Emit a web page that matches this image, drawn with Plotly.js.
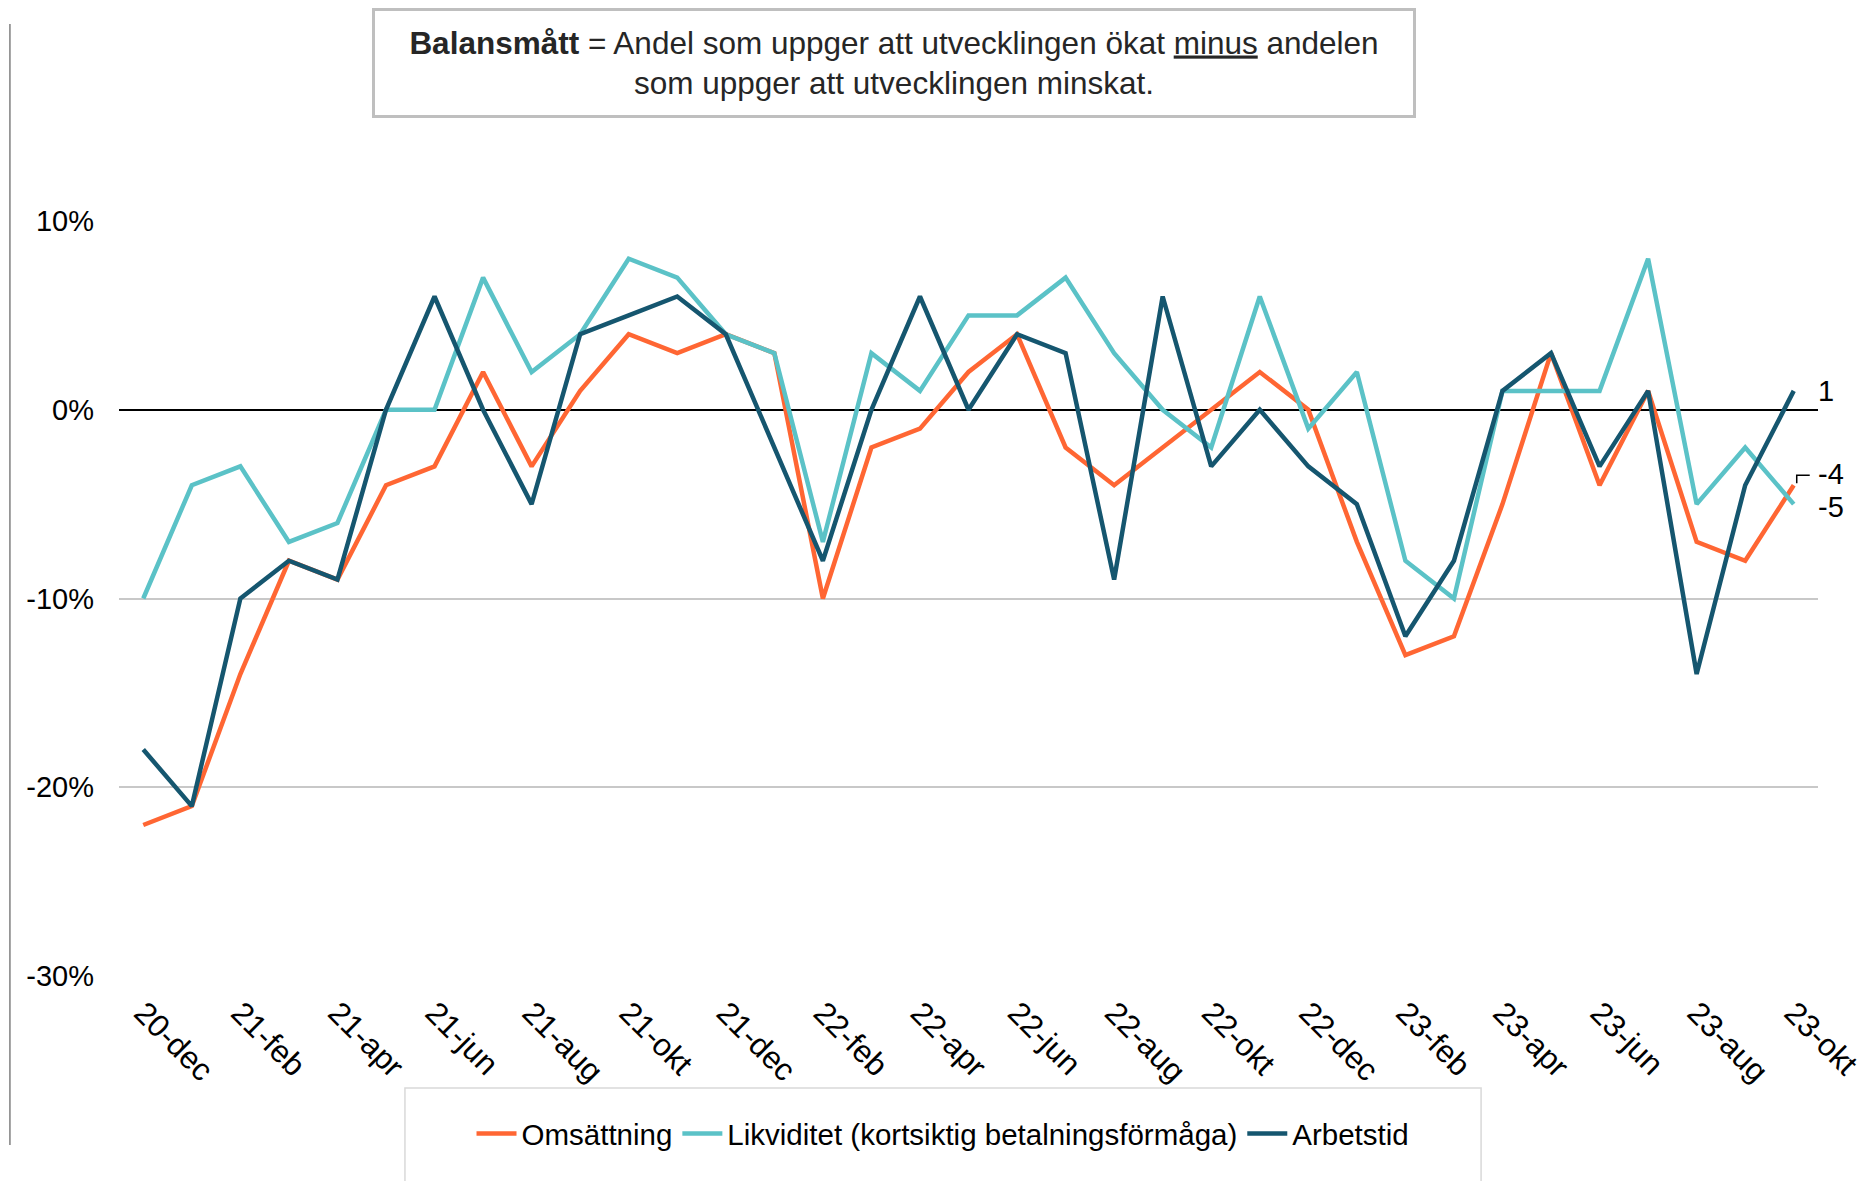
<!DOCTYPE html>
<html>
<head>
<meta charset="utf-8">
<script src="https://cdn.plot.ly/plotly-3.0.1.min.js"></script>
<style>
  html, body { margin: 0; padding: 0; background: #ffffff; }
  #chart { width: 1870px; height: 1181px; }
</style>
</head>
<body>
<div id="chart"></div>
<script>
// ---- Data (balance measures, percent) ----
var months = [
  "20-dec", "21-jan", "21-feb", "21-mar", "21-apr", "21-maj", "21-jun", "21-jul", "21-aug", "21-sep", "21-okt", "21-nov",
  "21-dec", "22-jan", "22-feb", "22-mar", "22-apr", "22-maj", "22-jun", "22-jul", "22-aug", "22-sep", "22-okt", "22-nov",
  "22-dec", "23-jan", "23-feb", "23-mar", "23-apr", "23-maj", "23-jun", "23-jul", "23-aug", "23-sep", "23-okt"
];
var tickLabels = [
  "20-dec", "21-feb", "21-apr", "21-jun", "21-aug", "21-okt", "21-dec", "22-feb", "22-apr",
  "22-jun", "22-aug", "22-okt", "22-dec", "23-feb", "23-apr", "23-jun", "23-aug", "23-okt"
];
var omsattning = [-22, -21, -14, -8, -9, -4, -3, 2, -3, 1, 4, 3, 4, 3, -10, -2, -1, 2, 4, -2, -4, -2, 0, 2, 0, -7, -13, -12, -5, 3, -4, 1, -7, -8, -4];
var likviditet = [-10, -4, -3, -7, -6, 0, 0, 7, 2, 4, 8, 7, 4, 3, -7, 3, 1, 5, 5, 7, 3, 0, -2, 6, -1, 2, -8, -10, 1, 1, 1, 8, -5, -2, -5];
var arbetstid  = [-18, -21, -10, -8, -9, 0, 6, 0, -5, 4, 5, 6, 4, -2, -8, 0, 6, 0, 4, 3, -9, 6, -3, 0, -3, -5, -12, -8, 1, 3, -3, 1, -14, -4, 1];
var seriesNames = ["Omsättning", "Likviditet (kortsiktig betalningsförmåga)", "Arbetstid"];
var yTicks = [-30, -20, -10, 0, 10];
var yTickLabels = ["-30%", "-20%", "-10%", "0%", "10%"];

// ---- Styles ----
var FONT = "Liberation Sans, Arial, Helvetica, sans-serif";
var colors = ["#FF6633", "#5BC2C7", "#15566F"];
var allSeries = [omsattning, likviditet, arbetstid];

var traces = allSeries.map(function (vals, i) {
  return {
    type: "scatter",
    mode: "lines",
    x: months,
    y: vals,
    name: seriesNames[i],
    line: { color: colors[i], width: 4.5 },
    hoverinfo: "x+y+name"
  };
});

var last = months.length - 1;
var endLabelShift = [11, -3, 0];   // vertical pixel nudges: -4, -5, 1
var annotations = allSeries.map(function (vals, i) {
  return {
    x: months[last], y: vals[last], xref: "x", yref: "y",
    text: String(vals[last]),
    showarrow: false, xanchor: "left", yanchor: "middle",
    xshift: 23, yshift: endLabelShift[i], borderpad: 0,
    font: { family: FONT, size: 29, color: "#000000" }
  };
});

annotations.push({
  xref: "paper", yref: "paper", x: 0.4559, y: 1.209,
  xanchor: "center", yanchor: "middle",
  text: "<b>Balansmått</b> = Andel som uppger att utvecklingen ökat <u>minus</u> andelen<br>som uppger att utvecklingen minskat.",
  showarrow: false, align: "center",
  width: 1036, height: 102,
  bordercolor: "#bfbfbf", borderwidth: 3, bgcolor: "#ffffff",
  font: { family: FONT, size: 31.5, color: "#262626" }
});

var shapes = [
  // thin frame line at far left
  { type: "line", xref: "paper", yref: "paper", x0: -0.0642, x1: -0.0642, y0: -0.2238, y1: 1.261,
    line: { color: "#7f7f7f", width: 1.5 } },
  // legend box
  { type: "rect", xref: "paper", yref: "paper", x0: 0.1683, x1: 0.8017, y0: -0.30, y1: -0.1483,
    line: { color: "#d9d9d9", width: 1.5 }, fillcolor: "rgba(0,0,0,0)", layer: "below" },
  // leader line for the -4 label
  { type: "path", xref: "x", yref: "y", xsizemode: "pixel", ysizemode: "pixel",
    xanchor: months[last], yanchor: omsattning[last],
    path: "M3,2 L3,10 L16,10", line: { color: "#000000", width: 1.5 } }
];

var layout = {
  width: 1870, height: 1181,
  paper_bgcolor: "#ffffff", plot_bgcolor: "#ffffff",
  margin: { l: 119, r: 52, t: 221, b: 205, pad: 0 },
  font: { family: FONT, size: 29, color: "#000000" },
  showlegend: true,
  legend: {
    orientation: "h", x: 0.485, xanchor: "center", y: -0.209, yanchor: "middle",
    font: { family: FONT, size: 29.5, color: "#000000" },
    bgcolor: "rgba(0,0,0,0)", borderwidth: 0, itemwidth: 40
  },
  xaxis: {
    type: "category",
    range: [-0.5, last + 0.5],
    tickmode: "array", tickvals: tickLabels, ticktext: tickLabels,
    tickangle: 45,
    showgrid: false, zeroline: false, showline: false, ticks: "",
    ticklabelstandoff: 11,
    tickfont: { family: FONT, size: 31.5, color: "#000000" },
    fixedrange: true
  },
  yaxis: {
    range: [-30, 10],
    tickmode: "array", tickvals: yTicks, ticktext: yTickLabels,
    showgrid: true, gridcolor: "#c8c8c8", gridwidth: 2,
    zeroline: true, zerolinecolor: "#000000", zerolinewidth: 2,
    showline: false, ticks: "",
    ticklabelstandoff: 24,
    tickfont: { family: FONT, size: 29, color: "#000000" },
    fixedrange: true
  },
  annotations: annotations,
  shapes: shapes
};

Plotly.newPlot("chart", traces, layout, { displayModeBar: false, staticPlot: true });
</script>
</body>
</html>
